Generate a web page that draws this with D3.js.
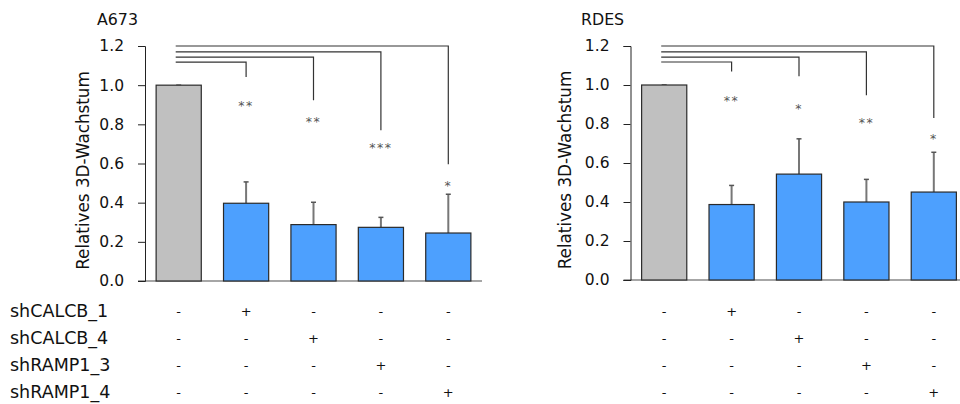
<!DOCTYPE html>
<html><head><meta charset="utf-8">
<script src="https://cdn.jsdelivr.net/npm/d3@7"></script>
<style>body{margin:0;background:#fff}svg{display:block}text{font-family:"DejaVu Sans",sans-serif}</style>
</head><body><svg id="c" width="960" height="404"></svg>
<script>
const categories = ["ctrl","shCALCB_1","shCALCB_4","shRAMP1_3","shRAMP1_4"];
const rowLabels = ["shCALCB_1","shCALCB_4","shRAMP1_3","shRAMP1_4"];
const rowSigns = [["-","+","-","-","-"],["-","-","+","-","-"],["-","-","-","+","-"],["-","-","-","-","+"]];
const yTicks = [0,0.2,0.4,0.6,0.8,1.0,1.2];
const a673Values = [1.0,0.397,0.288,0.274,0.245];
const a673ErrTop = [1.0,0.506,0.402,0.325,0.443];
const a673Stars = ["**","**","***","*"];
const a673StarY = [0.923,0.841,0.708,0.514];
const a673DropEnd = [1.042,0.923,0.77,0.596];
const rdesValues = [1.0,0.387,0.543,0.40,0.451];
const rdesErrTop = [1.0,0.485,0.724,0.516,0.655];
const rdesStars = ["**","*","**","*"];
const rdesStarY = [0.95,0.909,0.838,0.756];
const rdesDropEnd = [1.069,1.045,0.948,0.831];
const bracketLevels = [1.118,1.143,1.17,1.2];

const svg = d3.select("#c");
const FONT = '"DejaVu Sans",sans-serif';

function panel(o){
  const g = svg.append("g");
  const y = d3.scaleLinear().domain([0,1.2]).range([o.y0,46]);
  const x = d3.scaleBand().domain(categories).range([o.ax,o.ax+337]).paddingInner(0.33).paddingOuter(0.165);
  g.append("line").attr("x1",o.ax-7).attr("x2",o.ax+337).attr("y1",y(0)).attr("y2",y(0)).attr("stroke","#888").attr("stroke-width",1.3);
  const ya = g.append("g").attr("transform",`translate(${o.ax},0)`)
    .call(d3.axisLeft(y).tickValues(yTicks).tickFormat(d3.format(".1f")).tickSize(7).tickPadding(14));
  ya.select(".domain").attr("stroke","#222");
  ya.selectAll(".tick line").attr("stroke","#222");
  ya.selectAll("text").attr("font-size",15.5).attr("fill","#111").style("font-family",FONT);
  categories.forEach((c,i)=>{
    const cx = x(c)+x.bandwidth()/2;
    g.append("line").attr("x1",cx).attr("x2",cx).attr("y1",y(o.vals[i])).attr("y2",y(o.err[i])).attr("stroke","#777").attr("stroke-width",2);
    g.append("line").attr("x1",cx-2.5).attr("x2",cx+2.5).attr("y1",y(o.err[i])).attr("y2",y(o.err[i])).attr("stroke","#555").attr("stroke-width",1.5);
  });
  g.selectAll("rect.bar").data(o.vals).join("rect")
    .attr("x",(d,i)=>x(categories[i])).attr("width",x.bandwidth())
    .attr("y",d=>y(d)).attr("height",d=>y(0)-y(d))
    .attr("fill",(d,i)=>i===0?"#c0c0c0":"#4da0fe")
    .attr("stroke","#2a2a2a").attr("stroke-width",1.2);
  const sx = x(categories[0])+x.bandwidth()/2-3;
  bracketLevels.forEach((lv,k)=>{
    const cx = x(categories[k+1])+x.bandwidth()/2;
    g.append("path").attr("d",`M${sx},${y(lv)}H${cx}V${y(o.drop[k])}`).attr("fill","none").attr("stroke","#333").attr("stroke-width",1.2);
    g.append("text").attr("x",cx).attr("y",y(o.starY[k])).attr("dy","0.8em")
      .attr("text-anchor","middle").attr("font-size",12.5).attr("letter-spacing",1.5).attr("fill","#555").text(o.stars[k]);
  });
  g.append("text").attr("x",o.tx).attr("y",25).attr("font-size",15.8).attr("fill","#111").text(o.title);
  g.append("text").attr("transform",`translate(${o.yt},${(y(0)+y(1.2))/2+7}) rotate(-90)`)
    .attr("text-anchor","middle").attr("dy","0.35em").attr("font-size",16.8).attr("fill","#111").text("Relatives 3D-Wachstum");
  const rowY = [311,338,365,392];
  rowSigns.forEach((row,r)=>{
    row.forEach((s,i)=>{
      g.append("text").attr("x",x(categories[i])+x.bandwidth()/2).attr("y",rowY[r]).attr("dy","0.35em")
        .attr("text-anchor","middle").attr("font-size",13).attr("fill","#111").text(s);
    });
  });
  if(o.labels){
    rowLabels.forEach((l,r)=>{
      g.append("text").attr("x",10).attr("y",rowY[r]).attr("dy","0.35em").attr("font-size",17.5).attr("fill","#111").text(l);
    });
  }
}
panel({ax:145,y0:281,vals:a673Values,err:a673ErrTop,stars:a673Stars,starY:a673StarY,drop:a673DropEnd,title:"A673",tx:97,yt:83,labels:true});
panel({ax:630.5,y0:280,vals:rdesValues,err:rdesErrTop,stars:rdesStars,starY:rdesStarY,drop:rdesDropEnd,title:"RDES",tx:581,yt:565,labels:false});
</script></body></html>
